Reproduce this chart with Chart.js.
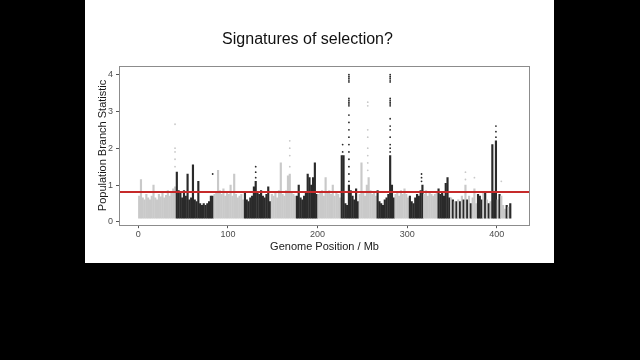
<!DOCTYPE html>
<html>
<head>
<meta charset="utf-8">
<script src="https://cdn.jsdelivr.net/npm/chart.js@4.4.1/dist/chart.umd.min.js"></script>
<style>
  html, body { margin: 0; width: 640px; height: 360px; background: #000; overflow: hidden; }
  #slide { position: absolute; left: 85px; top: 0; width: 469px; height: 263px; background: #fff; }
</style>
</head>
<body>
<div id="slide"><canvas id="manhattan"></canvas></div>
<script>
// genome split into 2 Mb bins, starting at 0 Mb
const binStart = 0;
const binSize = 2;

// upper edge of the dense point cloud in each bin (PBS)
const binTops = [
  // 0-42
  0.7, 1.15, 0.65, 0.6, 0.75, 0.65, 0.6, 0.7, 1.0, 0.65, 0.6, 0.75, 0.68, 0.8, 0.65, 0.72, 0.85, 0.7, 0.8, 0.9, 0.95,
  // 42-84
  1.35, 0.85, 0.8, 0.65, 0.85, 0.7, 1.3, 0.6, 0.65, 1.55, 0.6, 0.55, 1.1, 0.5, 0.45, 0.5, 0.45, 0.5, 0.55, 0.7, 0.7,
  // 84-118
  0.75, 0.8, 1.4, 0.85, 0.75, 0.9, 0.7, 0.8, 0.75, 1.0, 0.7, 1.3, 0.75, 0.65, 0.7, 0.75, 0.6,
  // 118-148
  0.8, 0.6, 0.55, 0.65, 0.7, 0.95, 1.1, 0.8, 0.75, 0.85, 0.7, 0.65, 0.75, 0.95, 0.55,
  // 148-176
  0.75, 0.7, 0.8, 0.65, 0.85, 1.6, 0.75, 0.7, 0.85, 1.25, 1.3, 0.8, 0.75, 0.7,
  // 176-200
  0.7, 1.0, 0.65, 0.6, 0.7, 0.8, 1.3, 1.2, 1.0, 1.2, 1.6, 0.75,
  // 200-226
  0.75, 0.8, 0.85, 0.7, 1.2, 0.8, 0.85, 0.75, 1.0, 0.7, 0.8, 0.75, 0.65,
  // 226-246
  1.8, 1.8, 0.5, 0.45, 1.0, 0.85, 0.7, 0.6, 0.9, 0.55,
  // 246-266
  0.75, 1.6, 0.8, 0.7, 1.0, 1.2, 0.85, 0.75, 0.8, 0.7,
  // 266-286
  0.85, 0.55, 0.5, 0.45, 0.6, 0.65, 0.75, 1.8, 1.0, 0.65,
  // 286-302
  0.75, 0.8, 0.7, 0.85, 0.75, 0.9, 0.75, 0.65,
  // 302-318
  0.7, 0.55, 0.5, 0.65, 0.75, 0.7, 0.85, 1.0,
  // 318-334
  0.75, 0.85, 0.7, 0.8, 0.75, 0.7, 0.75, 0.8,
  // 334-348
  0.9, 0.75, 0.8, 0.7, 1.05, 1.2, 0.65,
  // 348-416, small scaffolds
  0.65, 0.6, 0.55, 0.55, 0.6, 0.55, 0.7, 0.6, 1.0, 0.6, 0.7, 0.5, 0.65, 0.9, 0.5, 0.75, 0.7,
  0.6, 0.8, 0.8, 0.6, 0.5, 0.55, 2.1, 0.8, 2.2, 0.6, 0.75, 0.7, 0.45, 0.35, 0.45, 0.4, 0.5
];
const floorValue = 0.1;

// chromosome / scaffold ends (Mb); shading alternates grey, black, grey...
const segmentEnds = [42, 84, 118, 148, 176, 200, 226, 246, 266, 286, 302, 318, 334, 348,
  350, 352, 354, 356, 358, 360, 362, 364, 366, 368, 370, 372, 378, 384, 386, 388, 390,
  392, 394, 400, 402, 404, 410, 412, 414, 416];

// sparse outlier SNPs above the cloud
const spikeX = [41, 83, 131, 169, 228, 235, 256, 281, 316, 365, 375, 399, 405];
const spikeValues = [
  [1.5, 1.7, 1.9, 2.0, 2.65],
  [1.3],
  [1.2, 1.35, 1.5],
  [1.5, 1.8, 2.0, 2.2],
  [1.9, 2.1],
  [1.1, 1.3, 1.5, 1.7, 1.9, 2.1, 2.3, 2.5, 2.7, 2.9, 3.15, 3.2, 3.25, 3.3, 3.35, 3.8, 3.85, 3.9, 3.95, 4.0],
  [1.4, 1.6, 1.8, 2.0, 2.3, 2.5, 3.15, 3.25],
  [1.9, 2.0, 2.1, 2.3, 2.5, 2.6, 2.8, 3.15, 3.2, 3.25, 3.3, 3.35, 3.8, 3.85, 3.9, 3.95, 4.0],
  [1.1, 1.2, 1.3],
  [1.15, 1.35],
  [1.2],
  [2.3, 2.45, 2.6],
  [1.1]
];

const threshold = 0.82;
const xTicks = [0, 100, 200, 300, 400];
const yTicks = [0, 1, 2, 3, 4];

const GREY = '#c9c9c9';
const BLACK = '#2a2a2a';

function shadeAt(mb) {
  let i = segmentEnds.findIndex(end => mb < end);
  return i % 2 === 0 ? GREY : BLACK;
}

let bins = binTops.map((top, i) => ({ x: binStart + i * binSize + binSize / 2, y: [floorValue, top] }));
let spikes = [];
spikeX.forEach((x, i) => spikeValues[i].forEach(v => spikes.push({ x: x, y: v })));

const panelPlugin = {
  id: 'panel',
  afterDatasetsDraw(chart) {
    let ctx = chart.ctx;
    let area = chart.chartArea;
    let y = Math.round(chart.scales.y.getPixelForValue(threshold));
    ctx.save();
    ctx.strokeStyle = '#c62a2a';
    ctx.lineWidth = 2;
    ctx.beginPath();
    ctx.moveTo(area.left, y);
    ctx.lineTo(area.right, y);
    ctx.stroke();
    ctx.strokeStyle = '#8c8c8c';
    ctx.lineWidth = 1;
    ctx.strokeRect(Math.round(area.left) + 0.5, Math.round(area.top) + 0.5,
      Math.round(area.right - area.left) - 1, Math.round(area.bottom - area.top) - 1);
    ctx.restore();
  }
};

new Chart(document.getElementById('manhattan'), {
  type: 'bar',
  data: {
    datasets: [{
      label: 'bins',
      data: bins,
      backgroundColor: bins.map(b => shadeAt(b.x)),
      borderWidth: 0,
      barThickness: 1.5,
      order: 2
    }, {
      type: 'scatter',
      label: 'outliers',
      data: spikes,
      pointRadius: 0.9,
      pointBorderWidth: 0,
      pointBackgroundColor: spikes.map(p => shadeAt(p.x)),
      order: 1
    }]
  },
  options: {
    responsive: true,
    maintainAspectRatio: false,
    animation: false,
    layout: { padding: { left: 0, right: 24, top: 0, bottom: 11 } },
    plugins: {
      legend: { display: false },
      tooltip: { enabled: false },
      title: {
        display: true,
        text: 'Signatures of selection?',
        color: '#111',
        font: { family: 'Liberation Sans, Arial, sans-serif', size: 16, weight: 'normal', lineHeight: 1.2 },
        padding: { top: 30, bottom: 16.5 }
      }
    },
    scales: {
      x: {
        type: 'linear',
        offset: false,
        min: -21.5,
        max: 437,
        afterBuildTicks: scale => { scale.ticks = xTicks.map(v => ({ value: v })); },
        grid: { display: true, offset: false, drawOnChartArea: false, drawTicks: true, tickLength: 3, color: '#555' },
        border: { display: false },
        ticks: { padding: 1, color: '#4d4d4d', font: { family: 'Liberation Sans, Arial, sans-serif', size: 9 } },
        title: {
          display: true,
          text: 'Genome Position / Mb',
          color: '#1a1a1a',
          font: { family: 'Liberation Sans, Arial, sans-serif', size: 11, lineHeight: 1 },
          padding: { top: 0, bottom: 0 }
        }
      },
      y: {
        type: 'linear',
        min: -0.09,
        max: 4.24,
        afterBuildTicks: scale => { scale.ticks = yTicks.map(v => ({ value: v })); },
        grid: { display: true, drawOnChartArea: false, drawTicks: true, tickLength: 3, color: '#555' },
        border: { display: false },
        ticks: { padding: 3, color: '#4d4d4d', font: { family: 'Liberation Sans, Arial, sans-serif', size: 9 } },
        title: {
          display: true,
          text: 'Population Branch Statistic',
          color: '#1a1a1a',
          font: { family: 'Liberation Sans, Arial, sans-serif', size: 11, lineHeight: 1 },
          padding: { top: 12, bottom: -3 }
        }
      }
    }
  },
  plugins: [panelPlugin]
});
</script>
</body>
</html>
